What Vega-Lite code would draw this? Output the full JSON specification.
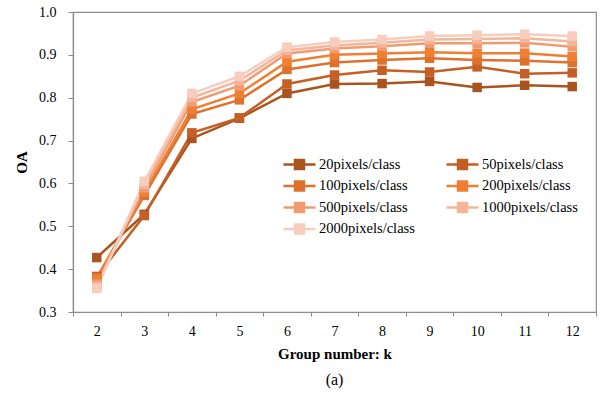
{
  "$schema": "https://vega.github.io/schema/vega-lite/v6.json",
  "autosize": {"type": "none"},
  "padding": {"left": 73, "top": 12, "right": 4, "bottom": 82},
  "width": 523,
  "height": 300,
  "background": "white",
  "config": {
    "view": {"stroke": "#8c8c8c", "strokeWidth": 1.2},
    "font": "Liberation Serif",
    "axis": {"grid": false, "domainColor": "#8c8c8c", "tickColor": "#8c8c8c", "domainWidth": 1.2, "labelFont": "Liberation Serif", "titleFont": "Liberation Serif", "labelColor": "#000", "titleColor": "#000"}
  },
  "title": {"text": "(a)", "orient": "bottom", "anchor": "middle", "font": "Liberation Serif", "fontSize": 16, "fontWeight": "normal", "color": "#000", "offset": 11},
  "data": {"values": [
    {"s": "20pixels/class", "k": 2, "oa": 0.427}, {"s": "20pixels/class", "k": 3, "oa": 0.528}, {"s": "20pixels/class", "k": 4, "oa": 0.705}, {"s": "20pixels/class", "k": 5, "oa": 0.752}, {"s": "20pixels/class", "k": 6, "oa": 0.81}, {"s": "20pixels/class", "k": 7, "oa": 0.832}, {"s": "20pixels/class", "k": 8, "oa": 0.833}, {"s": "20pixels/class", "k": 9, "oa": 0.838}, {"s": "20pixels/class", "k": 10, "oa": 0.824}, {"s": "20pixels/class", "k": 11, "oa": 0.829}, {"s": "20pixels/class", "k": 12, "oa": 0.826},
    {"s": "50pixels/class", "k": 2, "oa": 0.383}, {"s": "50pixels/class", "k": 3, "oa": 0.525}, {"s": "50pixels/class", "k": 4, "oa": 0.718}, {"s": "50pixels/class", "k": 5, "oa": 0.753}, {"s": "50pixels/class", "k": 6, "oa": 0.832}, {"s": "50pixels/class", "k": 7, "oa": 0.853}, {"s": "50pixels/class", "k": 8, "oa": 0.864}, {"s": "50pixels/class", "k": 9, "oa": 0.86}, {"s": "50pixels/class", "k": 10, "oa": 0.872}, {"s": "50pixels/class", "k": 11, "oa": 0.856}, {"s": "50pixels/class", "k": 12, "oa": 0.858},
    {"s": "100pixels/class", "k": 2, "oa": 0.38}, {"s": "100pixels/class", "k": 3, "oa": 0.572}, {"s": "100pixels/class", "k": 4, "oa": 0.762}, {"s": "100pixels/class", "k": 5, "oa": 0.795}, {"s": "100pixels/class", "k": 6, "oa": 0.866}, {"s": "100pixels/class", "k": 7, "oa": 0.882}, {"s": "100pixels/class", "k": 8, "oa": 0.888}, {"s": "100pixels/class", "k": 9, "oa": 0.892}, {"s": "100pixels/class", "k": 10, "oa": 0.888}, {"s": "100pixels/class", "k": 11, "oa": 0.886}, {"s": "100pixels/class", "k": 12, "oa": 0.882},
    {"s": "200pixels/class", "k": 2, "oa": 0.376}, {"s": "200pixels/class", "k": 3, "oa": 0.58}, {"s": "200pixels/class", "k": 4, "oa": 0.773}, {"s": "200pixels/class", "k": 5, "oa": 0.81}, {"s": "200pixels/class", "k": 6, "oa": 0.884}, {"s": "200pixels/class", "k": 7, "oa": 0.9}, {"s": "200pixels/class", "k": 8, "oa": 0.903}, {"s": "200pixels/class", "k": 9, "oa": 0.906}, {"s": "200pixels/class", "k": 10, "oa": 0.904}, {"s": "200pixels/class", "k": 11, "oa": 0.904}, {"s": "200pixels/class", "k": 12, "oa": 0.896},
    {"s": "500pixels/class", "k": 2, "oa": 0.365}, {"s": "500pixels/class", "k": 3, "oa": 0.59}, {"s": "500pixels/class", "k": 4, "oa": 0.79}, {"s": "500pixels/class", "k": 5, "oa": 0.828}, {"s": "500pixels/class", "k": 6, "oa": 0.903}, {"s": "500pixels/class", "k": 7, "oa": 0.915}, {"s": "500pixels/class", "k": 8, "oa": 0.92}, {"s": "500pixels/class", "k": 9, "oa": 0.927}, {"s": "500pixels/class", "k": 10, "oa": 0.927}, {"s": "500pixels/class", "k": 11, "oa": 0.928}, {"s": "500pixels/class", "k": 12, "oa": 0.919},
    {"s": "1000pixels/class", "k": 2, "oa": 0.36}, {"s": "1000pixels/class", "k": 3, "oa": 0.598}, {"s": "1000pixels/class", "k": 4, "oa": 0.8}, {"s": "1000pixels/class", "k": 5, "oa": 0.84}, {"s": "1000pixels/class", "k": 6, "oa": 0.911}, {"s": "1000pixels/class", "k": 7, "oa": 0.922}, {"s": "1000pixels/class", "k": 8, "oa": 0.928}, {"s": "1000pixels/class", "k": 9, "oa": 0.936}, {"s": "1000pixels/class", "k": 10, "oa": 0.937}, {"s": "1000pixels/class", "k": 11, "oa": 0.939}, {"s": "1000pixels/class", "k": 12, "oa": 0.931},
    {"s": "2000pixels/class", "k": 2, "oa": 0.355}, {"s": "2000pixels/class", "k": 3, "oa": 0.605}, {"s": "2000pixels/class", "k": 4, "oa": 0.81}, {"s": "2000pixels/class", "k": 5, "oa": 0.85}, {"s": "2000pixels/class", "k": 6, "oa": 0.918}, {"s": "2000pixels/class", "k": 7, "oa": 0.93}, {"s": "2000pixels/class", "k": 8, "oa": 0.936}, {"s": "2000pixels/class", "k": 9, "oa": 0.944}, {"s": "2000pixels/class", "k": 10, "oa": 0.946}, {"s": "2000pixels/class", "k": 11, "oa": 0.948}, {"s": "2000pixels/class", "k": 12, "oa": 0.944}
  ]},
  "mark": {"type": "line", "strokeWidth": 2.5, "point": {"shape": "square", "size": 90, "filled": true, "opacity": 1}},
  "encoding": {
    "x": {"field": "k", "type": "ordinal", "sort": null,
      "scale": {"type": "band", "paddingInner": 0, "paddingOuter": 0},
      "axis": {"title": "Group number: k", "labelAngle": 0, "labelFontSize": 14, "titleFontSize": 15, "titleFontWeight": "bold", "tickBand": "extent", "tickSize": 4, "labelPadding": 8, "titlePadding": 8}},
    "y": {"field": "oa", "type": "quantitative",
      "scale": {"domain": [0.3, 1.0], "nice": false, "zero": false},
      "axis": {"title": "OA", "values": [0.3, 0.4, 0.5, 0.6, 0.7, 0.8, 0.9, 1.0], "format": ".1f", "labelFontSize": 14, "titleFontSize": 15, "titleFontWeight": "bold", "tickSize": 5, "labelPadding": 12, "titlePadding": 9}},
    "color": {"field": "s", "type": "nominal",
      "scale": {"domain": ["20pixels/class", "50pixels/class", "100pixels/class", "200pixels/class", "500pixels/class", "1000pixels/class", "2000pixels/class"],
        "range": ["#A9541F", "#C45F25", "#DE712D", "#EE7F33", "#F19C70", "#F4B59B", "#F7CDBF"]},
      "legend": {"title": null, "orient": "none", "direction": "horizontal", "legendX": 215, "legendY": 141, "columns": 2, "columnPadding": 26, "rowPadding": 0.5, "padding": 0,
        "symbolType": "M-1.6,0H1.6M-0.45,-0.45H0.45V0.45H-0.45Z", "symbolSize": 400, "symbolStrokeWidth": 2.5, "symbolOpacity": 1,
        "labelFont": "Liberation Serif", "labelFontSize": 14.5, "labelColor": "#000", "labelOffset": 8, "labelLimit": 200}}
  }
}
